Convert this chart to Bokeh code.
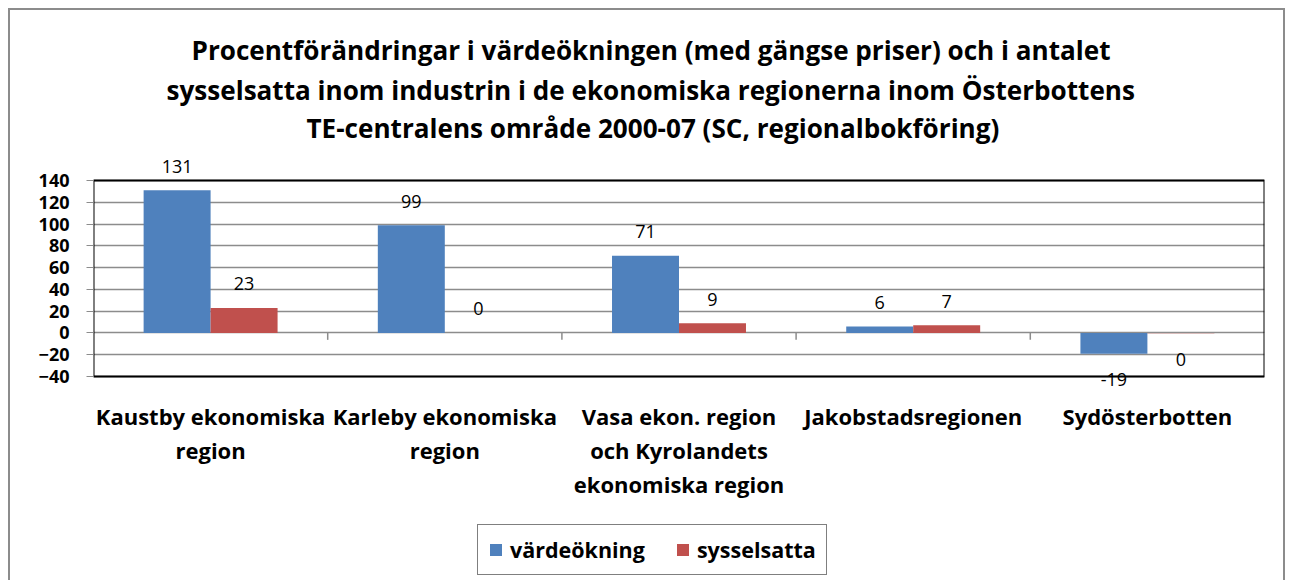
from bokeh.plotting import figure
from bokeh.models import (ColumnDataSource, LabelSet, Title, FixedTicker, Legend, LegendItem)
from bokeh.core.properties import value
from bokeh.embed import file_html
from bokeh.resources import INLINE

categories = ["Kaustby ekonomiska\nregion", "Karleby ekonomiska\nregion",
              "Vasa ekon. region\noch Kyrolandets\nekonomiska region",
              "Jakobstadsregionen", "Sydösterbotten"]
vardeokning = [131, 99, 71, 6, -19]
sysselsatta = [23, 0, 9, 7, -0.2]
series_names = ["värdeökning", "sysselsatta"]
colors = ["#4F81BD", "#C0504D"]
y_ticks = [-40, -20, 0, 20, 40, 60, 80, 100, 120, 140]
title_lines = ["Procentförändringar i värdeökningen (med gängse priser) och i antalet",
               "sysselsatta inom industrin i de ekonomiska regionerna inom Österbottens",
               "TE-centralens område  2000-07 (SC, regionalbokföring)"]

FONT = "Open Sans"
n = len(categories)
centers = [i + 0.5 for i in range(n)]
bw = 0.286

# The frame covers the plot area plus room above it (outside-end labels) and
# below it (category labels and legend), so nothing there gets clipped.
PX_PER_UNIT = 196 / 180
FRAME_H = 425
Y_MAX = 163
Y_MIN = Y_MAX - FRAME_H / PX_PER_UNIT

p = figure(frame_width=1171, frame_height=FRAME_H, x_range=(0, n), y_range=(Y_MIN, Y_MAX),
           output_backend="svg", toolbar_location=None,
           min_border_left=83, min_border_right=19, min_border_top=145, min_border_bottom=0)
p.styles = {"margin-left": "8px", "margin-top": "8px",
            "border-left": "2px solid #8c8c8c", "border-top": "2px solid #8c8c8c",
            "border-right": "2px solid #8c8c8c"}

p.title.visible = False
# (line, left offset from plot area, standoff) - added from the line nearest the plot upward
for line, offs, so in zip(reversed(title_lines), [213, 73, 98], [20, -20, 24]):
    p.add_layout(Title(text=line, align="left", offset=offs, standoff=so,
                       text_font=FONT, text_font_size="26.1px", text_font_style="bold",
                       text_color="black"), "above")

# plot-area box
p.quad(left=[0], right=[n], bottom=[y_ticks[0]], top=[y_ticks[-1]],
       fill_color=None, line_color="black", line_width=2)

renderers = []
for k, (vals, col) in enumerate([(vardeokning, colors[0]), (sysselsatta, colors[1])]):
    off = -bw / 2 if k == 0 else bw / 2
    xs = [c + off for c in centers]
    src = ColumnDataSource(dict(x=xs, top=vals,
                                lab=[str(int(round(v))) for v in vals],
                                yo=[24 if v >= 0 else -26 for v in vals]))
    r = p.vbar(x="x", top="top", bottom=0, width=bw, source=src, fill_color=col, line_color=None)
    renderers.append(r)
    ls = LabelSet(x="x", y="top", text="lab", y_offset="yo", source=src,
                  text_align="center", text_baseline="middle",
                  text_font=value(FONT), text_font_size="18px", text_color="black")
    p.add_layout(ls)

# category labels under the plot area, one centred label per text line
cat_x, cat_txt, cat_off = [], [], []
for c, lab in zip(centers, categories):
    for i, part in enumerate(lab.split("\n")):
        cat_x.append(c)
        cat_txt.append(part)
        cat_off.append(-39 - 34 * i)
cat_src = ColumnDataSource(dict(x=cat_x, y=[y_ticks[0]] * len(cat_x), lab=cat_txt, yo=cat_off))
p.add_layout(LabelSet(x="x", y="y", text="lab", y_offset="yo", source=cat_src,
                      text_align="center", text_baseline="middle",
                      text_font=value(FONT), text_font_size="22px", text_font_style="bold",
                      text_color="black"))

# category boundary ticks on the zero line
bounds = list(range(1, n + 1))
p.segment(x0=bounds, y0=[0] * n, x1=bounds, y1=[-6.3] * n, line_color="#8c8c8c", line_width=1.5)

p.xgrid.visible = False
p.ygrid.grid_line_color = "#8c8c8c"
p.ygrid.grid_line_width = 1.5
p.yaxis.ticker = FixedTicker(ticks=y_ticks)
p.yaxis.axis_line_color = None
p.yaxis.major_tick_line_color = "#8c8c8c"
p.yaxis.major_tick_out = 7
p.yaxis.major_tick_in = 0
p.yaxis.minor_tick_line_color = None
p.yaxis.major_label_text_font = FONT
p.yaxis.major_label_text_font_style = "bold"
p.yaxis.major_label_text_font_size = "18px"
p.yaxis.major_label_text_color = "black"
p.yaxis.major_label_standoff = 17
p.xaxis.visible = False

p.outline_line_color = None

legend = Legend(items=[LegendItem(label=series_names[i], renderers=[renderers[i]]) for i in range(2)],
                orientation="horizontal", location=(384, 5))
legend.label_text_font = FONT
legend.label_text_font_style = "bold"
legend.label_text_font_size = "21.5px"
legend.label_text_color = "black"
legend.glyph_width = 15
legend.glyph_height = 15
legend.label_standoff = 7
legend.spacing = 30
legend.padding = 10
legend.margin = 0
legend.border_line_color = "black"
legend.border_line_width = 1.5
p.add_layout(legend, "center")

open("out.html", "w").write(file_html(p, INLINE))
